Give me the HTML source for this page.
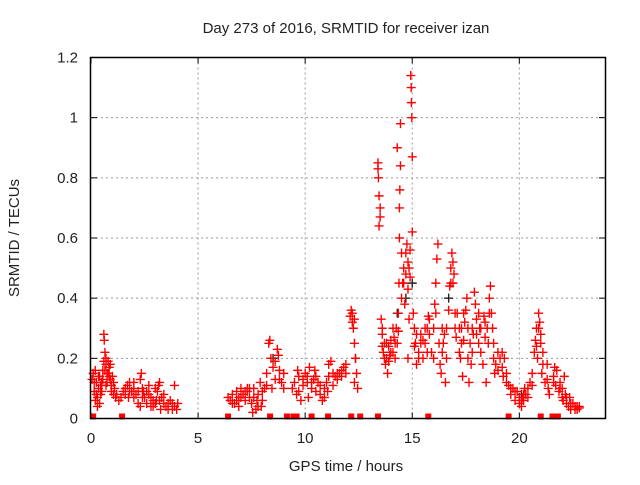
<!DOCTYPE html>
<html><head><meta charset="utf-8"><style>
html,body{margin:0;padding:0;background:#fff;}
svg text{font-family:"Liberation Sans",sans-serif;fill:#222;}
</style></head><body>
<svg id="chart" width="640" height="480" xmlns="http://www.w3.org/2000/svg">
<text x="346" y="33" font-size="15" text-anchor="middle">Day 273 of 2016, SRMTID for receiver izan</text>
<text transform="translate(19,238) rotate(-90)" font-size="15" text-anchor="middle">SRMTID / TECUs</text>
<text x="346" y="471" font-size="15" text-anchor="middle">GPS time / hours</text>
<g id="grid"></g>
<g id="ticks"></g>
<g id="marks"></g>
<rect x="90.5" y="57.5" width="515" height="361" fill="none" stroke="#000" stroke-width="1.5"/>
</svg>
<script>
const xTicks = [0,5,10,15,20];
const yTicks = [0,0.2,0.4,0.6,0.8,1.0,1.2];
const yTickLabels = ["0","0.2","0.4","0.6","0.8","1","1.2"];
const seriesRed = [
[0.05,0.13],[0.1,0.15],[0.15,0.09],[0.2,0.06],[0.25,0.12],[0.3,0.04],[0.35,0.1],[0.4,0.14],[0.45,0.08],[0.5,0.12],[0.55,0.16],[0.6,0.28],[0.62,0.26],[0.65,0.22],[0.7,0.18],[0.75,0.15],[0.8,0.19],[0.85,0.17],[0.9,0.13],[0.95,0.11],[1.0,0.14],[1.05,0.12],[1.1,0.1],[0.3,0.07],[0.4,0.05],[0.5,0.09],[0.2,0.16],[0.6,0.19],[0.7,0.11],[0.9,0.18],
[1.2,0.08],[1.3,0.06],[1.4,0.07],[1.5,0.09],[1.6,0.1],[1.7,0.11],[1.8,0.12],[1.9,0.09],[2.0,0.1],[2.1,0.08],[2.2,0.05],[2.3,0.13],[2.35,0.15],[2.4,0.1],[2.5,0.07],[2.6,0.05],[2.7,0.08],[2.8,0.04],[2.9,0.06],[3.0,0.1],[3.1,0.09],[3.2,0.12],[3.3,0.07],[3.4,0.05],[3.5,0.04],[3.6,0.03],[3.7,0.06],[3.8,0.05],[3.9,0.04],[4.0,0.03],[4.05,0.05],[2.3,0.04],[2.45,0.09],[3.05,0.06],[3.15,0.11],[3.25,0.03],[3.9,0.11],[1.75,0.07],[2.0,0.12],
[6.4,0.07],[6.5,0.06],[6.6,0.08],[6.7,0.05],[6.8,0.09],[6.9,0.07],[7.0,0.1],[7.1,0.08],[7.2,0.06],[7.3,0.09],[7.4,0.07],[7.5,0.05],[7.6,0.1],[7.7,0.03],[7.8,0.08],[7.9,0.12],[8.0,0.06],[8.1,0.1],[8.2,0.15],[8.3,0.25],[8.35,0.26],[8.4,0.2],[8.5,0.17],[8.6,0.13],[8.7,0.23],[8.8,0.16],[8.9,0.12],[9.0,0.15],[7.55,0.02],[7.75,0.06],[7.95,0.04],[8.45,0.1],[8.75,0.21],[6.9,0.04],[7.3,0.1],
[9.4,0.1],[9.5,0.12],[9.6,0.08],[9.7,0.14],[9.8,0.06],[9.9,0.11],[10.0,0.15],[10.1,0.12],[10.2,0.17],[10.3,0.1],[10.4,0.13],[10.5,0.09],[10.6,0.12],[10.7,0.08],[10.8,0.06],[10.9,0.1],[11.0,0.12],[11.1,0.18],[11.2,0.19],[11.3,0.11],[11.4,0.14],[11.5,0.13],[11.6,0.15],[11.7,0.16],[11.8,0.17],[11.9,0.18],[12.1,0.34],[12.15,0.36],[12.2,0.32],[12.25,0.3],[12.3,0.25],[12.35,0.2],[12.4,0.15],[12.45,0.1],[9.65,0.16],[10.15,0.07],[10.45,0.16],[11.05,0.09],[12.3,0.12],
[13.4,0.85],[13.4,0.83],[13.42,0.8],[13.45,0.74],[13.45,0.64],[13.5,0.67],[13.5,0.7],[13.55,0.33],[13.6,0.28],[13.65,0.22],[13.7,0.25],[13.75,0.18],[13.8,0.2],[13.85,0.15],[13.9,0.24],[13.95,0.21],[14.0,0.26],[14.1,0.3],[14.2,0.2],[14.3,0.25],[14.35,0.35],[14.38,0.45],[14.4,0.6],[14.4,0.7],[14.42,0.76],[14.45,0.84],[14.45,0.98],[14.5,0.55],[14.55,0.45],[14.6,0.5],[14.65,0.38],[14.7,0.55],[14.75,0.58],[14.8,0.43],[14.85,0.33],[14.9,0.47],[14.93,1.14],[14.95,1.1],[14.96,1.05],[14.98,1.0],[15.0,0.87],[15.0,0.62],[15.05,0.35],[15.1,0.3],[15.15,0.25],[15.2,0.18],[15.3,0.22],[15.4,0.28],[15.5,0.26],[14.35,0.29],[14.3,0.9],[13.6,0.3],[14.1,0.22],[14.8,0.2],
[15.5,0.2],[15.6,0.25],[15.7,0.3],[15.75,0.34],[15.8,0.28],[15.9,0.22],[16.0,0.3],[16.05,0.38],[16.1,0.45],[16.15,0.53],[16.2,0.58],[16.25,0.25],[16.3,0.18],[16.35,0.15],[16.4,0.22],[16.5,0.28],[16.55,0.12],[16.6,0.3],[16.7,0.36],[16.75,0.44],[16.8,0.5],[16.85,0.55],[16.9,0.52],[16.95,0.48],[17.0,0.3],[17.05,0.27],[17.1,0.35],[17.2,0.22],[17.3,0.3],[17.35,0.14],[17.4,0.26],[17.45,0.32],[17.5,0.36],[17.55,0.4],[17.6,0.2],[17.65,0.12],[17.7,0.25],[17.8,0.3],[17.85,0.28],[17.9,0.42],[17.95,0.38],[18.0,0.33],[18.1,0.35],[18.15,0.3],[18.2,0.22],[18.3,0.18],[18.35,0.34],[18.4,0.27],[18.5,0.3],[18.55,0.25],[18.6,0.4],[18.65,0.44],[18.7,0.35],[18.75,0.3],[18.8,0.2],[18.85,0.15],[18.9,0.18],[19.0,0.22],[19.1,0.2],[19.2,0.17],[19.25,0.14],[19.3,0.2],[19.4,0.12],[16.45,0.25],[17.25,0.2],[18.45,0.12],[16.0,0.2],[17.75,0.18],
[19.5,0.11],[19.6,0.08],[19.7,0.1],[19.8,0.06],[19.9,0.09],[20.0,0.05],[20.1,0.04],[20.15,0.07],[20.2,0.06],[20.3,0.08],[20.4,0.1],[20.5,0.12],[20.6,0.15],[20.7,0.22],[20.75,0.26],[20.8,0.3],[20.85,0.2],[20.9,0.35],[20.95,0.32],[21.0,0.28],[21.05,0.15],[21.1,0.22],[21.2,0.12],[21.3,0.18],[21.35,0.1],[21.4,0.08],[21.6,0.14],[21.65,0.17],[21.7,0.11],[21.85,0.09],[21.9,0.12],[22.0,0.1],[22.05,0.06],[22.1,0.14],[22.15,0.08],[22.2,0.05],[22.3,0.04],[22.4,0.03],[22.5,0.05],[22.6,0.03],[22.7,0.04],[22.8,0.035],[20.25,0.1],[21.0,0.25],[21.75,0.16],[22.35,0.07]
];
const seriesRedExtra = [
[0.15,0.12],[0.25,0.08],[0.35,0.14],[0.45,0.11],[0.55,0.13],[0.65,0.16],[0.75,0.12],[0.85,0.14],[0.95,0.09],[1.05,0.08],[1.15,0.07],[0.7,0.2],[0.8,0.15],
[1.6,0.08],[1.8,0.09],[2.0,0.07],[2.2,0.09],[2.4,0.07],[2.6,0.09],[2.8,0.07],[3.0,0.05],[3.2,0.06],[3.4,0.08],[3.6,0.05],[3.8,0.03],[2.7,0.11],[2.9,0.04],
[6.6,0.05],[6.8,0.06],[7.0,0.07],[7.2,0.09],[7.4,0.1],[7.6,0.07],[7.8,0.04],[8.0,0.09],[8.2,0.11],[8.6,0.19],[8.8,0.13],[9.0,0.1],
[9.7,0.09],[9.9,0.13],[10.1,0.14],[10.3,0.12],[10.5,0.14],[10.7,0.11],[10.9,0.07],[11.1,0.14],[11.3,0.15],[11.5,0.15],[11.7,0.14],[11.9,0.15],[12.2,0.35],[12.3,0.33],
[13.6,0.24],[13.7,0.2],[13.8,0.25],[13.9,0.19],[14.0,0.22],[14.2,0.25],[14.5,0.4],[14.6,0.45],[14.7,0.48],[14.8,0.52],[14.9,0.56],[14.85,0.5],[15.1,0.24],[15.2,0.28],[15.3,0.2],[15.4,0.25],[14.25,0.3],[14.15,0.27],
[15.6,0.3],[15.7,0.22],[15.8,0.33],[16.1,0.35],[16.4,0.3],[16.6,0.2],[16.8,0.45],[16.9,0.45],[17.0,0.35],[17.2,0.3],[17.4,0.35],[17.6,0.3],[17.8,0.22],[18.0,0.28],[18.2,0.3],[18.4,0.32],[18.6,0.35],[18.8,0.25],[19.0,0.16],[19.2,0.22],[19.4,0.15],[17.3,0.25],[18.1,0.25],
[19.6,0.1],[19.8,0.09],[20.0,0.07],[20.1,0.06],[20.2,0.08],[20.4,0.07],[20.6,0.11],[20.8,0.24],[20.9,0.3],[21.1,0.18],[21.3,0.13],[21.6,0.12],[21.9,0.1],[22.0,0.07],[22.2,0.07],[22.4,0.05],[22.6,0.04],[22.8,0.04],[22.7,0.03]
];
const seriesBlack = [[14.7,0.4],[15.0,0.45],[16.7,0.4],[14.3,0.35],[12.35,0.2],[8.5,0.2],[20.1,0.08]];
const zeroTimes = [0.1,1.45,6.4,8.36,9.15,9.45,9.6,10.3,11.07,12.15,12.57,13.4,15.75,19.5,21.0,21.55,21.8];

const X0=91, X1=605, Y0=418.5, Y1=57.5;
function xs(t){return X0+(t/24)*(X1-X0);}
function ys(v){return Y0-(v/1.2)*(Y0-Y1);}
const NS="http://www.w3.org/2000/svg";
function mk(tag,attrs,parent){const e=document.createElementNS(NS,tag);for(const k in attrs)e.setAttribute(k,attrs[k]);parent.appendChild(e);return e;}
const grid=document.getElementById('grid'), ticks=document.getElementById('ticks'), marks=document.getElementById('marks');
xTicks.forEach(t=>{
  const x=xs(t);
  if(t>0){const g=mk('line',{x1:x,x2:x,y1:Y1,y2:Y0,stroke:'#999','stroke-dasharray':'2,3'},grid);
  
  }
  mk('line',{x1:x,x2:x,y1:Y0,y2:Y0-6,stroke:'#000'},grid);
  mk('line',{x1:x,x2:x,y1:Y1,y2:Y1+6,stroke:'#000'},grid);
  const l=mk('text',{x:x,y:443,'font-size':15,'text-anchor':'middle'},ticks);l.textContent=String(t);
  
  
});
yTicks.forEach((v,i)=>{
  const y=ys(v);
  if(v>0){const g=mk('line',{x1:X0,x2:X1,y1:y,y2:y,stroke:'#999','stroke-dasharray':'2,3'},grid);
  
  }
  mk('line',{x1:X0,x2:X0+6,y1:y,y2:y,stroke:'#000'},grid);
  mk('line',{x1:X1,x2:X1-6,y1:y,y2:y,stroke:'#000'},grid);
  const l=mk('text',{x:78,y:y+5,'font-size':15,'text-anchor':'end'},ticks);l.textContent=yTickLabels[i];
  
  
});
function plus(t,v,col,name){
  const x=xs(t),y=ys(v);
  const p=mk('path',{d:`M${x-4.5},${y}H${x+4.5}M${x},${y-4.5}V${y+4.5}`,stroke:col,'stroke-width':1.4,fill:'none'},marks);
  
  
}
seriesBlack.forEach(d=>plus(d[0],d[1],'#222','point-black'));
seriesRed.forEach(d=>plus(d[0],d[1],'#f00','point-srmtid'));
seriesRedExtra.forEach(d=>plus(d[0],d[1],'#f00','point-srmtid'));
zeroTimes.forEach(t=>{
  const r=mk('rect',{x:xs(t)-3,y:Y0-5,width:6,height:6,fill:'#f00'},marks);
  
  
});
</script>
</body></html>
